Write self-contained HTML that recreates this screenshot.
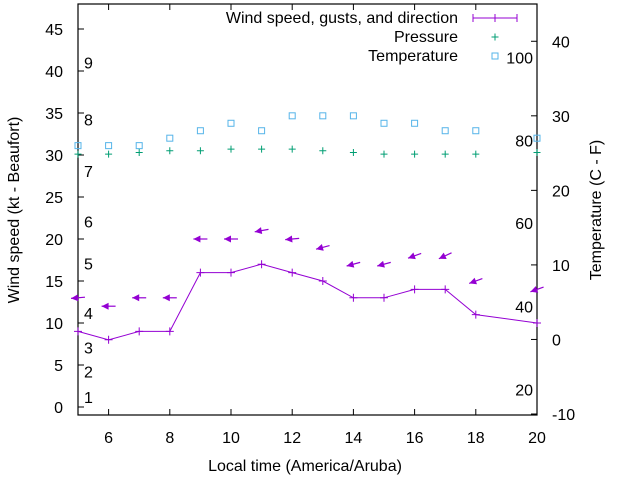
<!DOCTYPE html>
<html><head><meta charset="utf-8"><style>
body{margin:0;background:#fff;}
svg{display:block;font-family:"Liberation Sans",sans-serif;font-size:16px;}
</style></head><body>
<svg id="chart" width="640" height="480"></svg>
<script>
const hours=[5,6,7,8,9,10,11,12,13,14,15,16,17,18,20];
const windSpeed=[9,8,9,9,16,16,17,16,15,13,13,14,14,11,10];
const gusts=[13,12,13,13,20,20,21,20,19,17,17,18,18,15,14];
const gustAngle=[5,0,0,0,0,0,10,5,15,15,15,20,25,20,20];
const pressure=[30.1,30.1,30.3,30.5,30.5,30.7,30.7,30.7,30.5,30.3,30.1,30.1,30.1,30.1,30.3];
const temperature=[26,26,26,27,28,29,28,30,30,30,29,29,28,28,27];
const xTicks=[6,8,10,12,14,16,18,20];
const yTicks=[0,5,10,15,20,25,30,35,40,45];
const y2Ticks=[-10,0,10,20,30,40];
const beaufort=[[1,1.2],[2,4.2],[3,7.1],[4,11.2],[5,17.1],[6,22.1],[7,28.1],[8,34.2],[9,41]];
const fahr=[[20,-6.7],[40,4.4],[60,15.6],[80,26.7],[100,37.8]];

const L=78,R=537,T=4,B=415;
const X=v=>L+(v-5)/15*(R-L);
const Y=v=>407-(v)*8.4;
const Y2=v=>414-(v+10)*(410/55);
const svg=document.getElementById('chart');
const NS='http://www.w3.org/2000/svg';
function mk(tag,at,parent){const e=document.createElementNS(NS,tag);for(const k in at)e.setAttribute(k,at[k]);(parent||svg).appendChild(e);return e;}
function txt(x,y,s,anchor,extra){const t=mk('text',Object.assign({x:x,y:y,'text-anchor':anchor||'middle',fill:'#000'},extra||{}));t.textContent=s;return t;}

let f=mk('rect',{x:L,y:T,width:R-L,height:B-T,fill:'none',stroke:'#000','stroke-width':1.2});


xTicks.forEach(v=>{
  let l=mk('line',{x1:X(v),x2:X(v),y1:B,y2:B-6,stroke:'#000'});
  
  
  mk('line',{x1:X(v),x2:X(v),y1:T,y2:T+6,stroke:'#000'});
  let t=txt(X(v),443,String(v));
  
  
});
yTicks.forEach(v=>{
  let l=mk('line',{x1:L,x2:L+6,y1:Y(v),y2:Y(v),stroke:'#000'});
  
  
  let t=txt(63,Y(v)+6,String(v),'end');
  
  
});
y2Ticks.forEach(v=>{
  let l=mk('line',{x1:R-6,x2:R,y1:Y2(v),y2:Y2(v),stroke:'#000'});
  
  
  let t=txt(552,Y2(v)+6,String(v),'start');
  
  
});
beaufort.forEach(b=>{
  let t=txt(84,Y(b[1])+6,String(b[0]),'start');
  
  
});
fahr.forEach(b=>{
  let t=txt(533,Y2(b[1])+6,String(b[0]),'end');
  
  
});
let xt=txt(305,471,'Local time (America/Aruba)');


let yt=txt(0,0,'Wind speed (kt - Beaufort)','middle',{transform:'translate(19,210) rotate(-90)'});


let y2t=txt(0,0,'Temperature (C - F)','middle',{transform:'translate(601,210) rotate(-90)'});



const purple='#9400d3',green='#009e73',blue='#56b4e9';
let pts=hours.map((h,i)=>X(h)+','+Y(windSpeed[i])).join(' ');
let pl=mk('polyline',{points:pts,fill:'none',stroke:purple,'stroke-width':1});


hours.forEach((h,i)=>{
  let x=X(h),y=Y(windSpeed[i]);
  let m=mk('path',{d:`M${x-4} ${y}H${x+4}M${x} ${y-4}V${y+4}`,stroke:purple,'stroke-width':1});
  
  
});
hours.forEach((h,i)=>{
  let x=X(h),y=Y(gusts[i]),a=gustAngle[i]*Math.PI/180,c=Math.cos(a),s=Math.sin(a);
  let hx=x-7*c,hy=y+7*s,tx=x+7*c,ty=y-7*s;
  let g=mk('g',{});
  
  
  mk('line',{x1:tx,y1:ty,x2:hx,y2:hy,stroke:purple,'stroke-width':1.2},g);
  let bx=hx+7*c,by=hy-7*s,px=-s*3.5,py=-c*3.5;
  mk('polygon',{points:`${hx},${hy} ${bx+px},${by+py} ${bx-px},${by-py}`,fill:purple},g);
});
hours.forEach((h,i)=>{
  let x=X(h),y=Y(pressure[i]);
  let m=mk('path',{d:`M${x-3.5} ${y}H${x+3.5}M${x} ${y-3.5}V${y+3.5}`,stroke:green,'stroke-width':1});
  
  
});
hours.forEach((h,i)=>{
  let x=X(h),y=Y2(temperature[i]);
  let m=mk('rect',{x:x-3,y:y-3,width:6,height:6,fill:'none',stroke:blue,'stroke-width':1});
  
  
});
let lg=mk('g',{});


let t1=txt(458,23,'Wind speed, gusts, and direction','end');lg.appendChild(t1);


mk('path',{d:'M473 18H517M473 14V22M495 14V22M517 14V22',stroke:purple,'stroke-width':1},lg);
let t2=txt(458,42,'Pressure','end');lg.appendChild(t2);


mk('path',{d:'M491.5 37H498.5M495 33.5V40.5',stroke:green,'stroke-width':1},lg);
let t3=txt(458,61,'Temperature','end');lg.appendChild(t3);


mk('rect',{x:492,y:53,width:6,height:6,fill:'none',stroke:blue},lg);
</script>
</body></html>
